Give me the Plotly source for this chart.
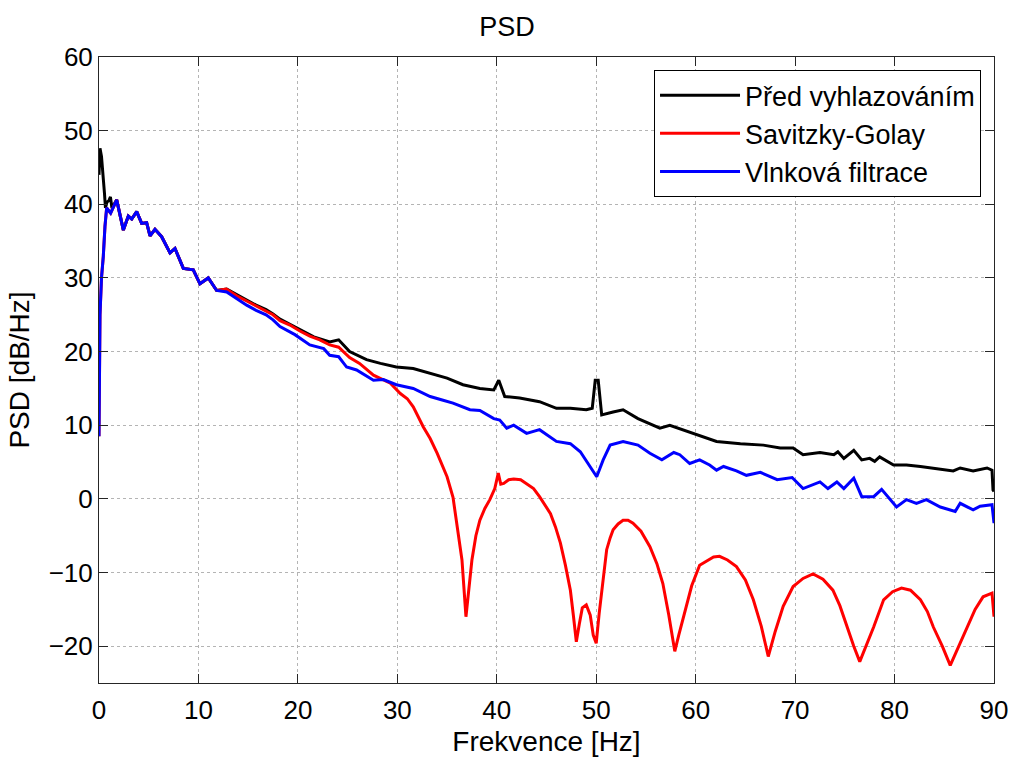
import plotly.graph_objects as go

# ---- data ----
blue_x = [0.0, 0.1, 0.25, 0.43, 0.6, 0.77, 1.17, 1.78, 2.45, 2.95, 3.29, 3.79, 4.29, 4.79, 5.13, 5.63,
          6.3, 7.14, 7.64, 8.48, 9.48, 10.15, 10.99, 11.83, 12.84, 13.85, 14.85, 15.8, 16.8, 17.5, 18.2,
          19.7, 21.2, 22.6, 23.2, 24.1, 24.9, 25.9, 27.6, 28.6, 29.9, 31.6, 33.3, 34.6, 35.6, 37.3, 38.3,
          39.7, 40.3, 41.0, 41.7, 43.0, 44.3, 46.0, 47.4, 48.4, 49.2, 50.05, 50.7, 51.4, 52.7, 54.2, 55.4,
          56.6, 57.8, 58.4, 59.4, 60.4, 61.4, 62.1, 62.8, 64.1, 65.1, 66.5, 68.2, 69.7, 70.8, 72.5, 73.3,
          74.2, 74.9, 75.9, 76.7, 77.9, 78.7, 80.2, 81.2, 82.2, 83.2, 84.6, 86.1, 86.6, 87.9, 88.6, 89.8, 90.0]
blue_y = [8.5, 25.0, 30.0, 32.9, 37.0, 39.5, 38.8, 40.6, 36.5, 38.4, 38.0, 39.0, 37.4, 37.5, 35.7, 36.6,
          35.6, 33.4, 34.0, 31.3, 31.1, 29.2, 30.0, 28.3, 28.1, 27.2, 26.3, 25.6, 25.0, 24.3, 23.4,
          22.3, 20.9, 20.4, 19.5, 19.3, 17.9, 17.5, 16.1, 16.2, 15.5, 15.0, 13.9, 13.4, 13.0, 12.1, 12.0,
          10.9, 10.7, 9.6, 10.0, 8.9, 9.4, 7.8, 7.5, 6.4, 4.8, 3.0, 5.3, 7.3, 7.8, 7.3, 6.2,
          5.3, 6.3, 6.0, 4.8, 5.3, 4.6, 3.9, 4.4, 3.8, 3.2, 3.6, 2.6, 2.9, 1.4, 2.3, 1.4,
          2.3, 1.4, 2.8, 0.3, 0.3, 1.3, -1.1, -0.1, -0.6, -0.1, -1.1, -1.7, -0.6, -1.5, -1.0, -0.8, -3.3]

red_x = [0.0, 0.1, 0.25, 0.43, 0.6, 0.77, 1.17, 1.78, 2.45, 2.95, 3.29, 3.79, 4.29, 4.79, 5.13, 5.63,
         6.3, 7.14, 7.64, 8.48, 9.48, 10.15, 10.99, 11.83, 12.8, 13.8, 14.8, 15.8, 16.8, 17.5, 18.2,
         19.2, 20.2, 21.2, 22.2, 23.2, 24.1, 25.2, 26.2, 27.6, 29.3, 30.3, 31.0, 31.6, 32.6, 33.3, 34.0,
         35.0, 35.6, 36.0, 36.5, 36.9, 37.2, 37.5, 37.9, 38.3, 38.8, 39.3, 39.8, 40.15, 40.4, 40.7, 41.2,
         41.7, 42.4, 43.0, 43.7, 44.3, 44.9, 45.4, 45.9, 46.4, 46.9, 47.4, 47.7, 48.0, 48.3, 48.6, 49.0,
         49.4, 49.7, 50.0, 50.3, 50.55, 50.8, 51.05, 51.4, 51.7, 52.2, 52.7, 53.2, 53.7, 54.5, 55.4, 56.1,
         56.7, 57.3, 57.9, 58.3, 58.8, 59.6, 60.4, 61.1, 61.8, 62.4, 63.2, 64.1, 65.0, 65.8, 66.6, 67.3,
         68.0, 68.8, 69.8, 70.8, 71.8, 72.8, 73.8, 74.5, 75.2, 75.9, 76.5, 77.2, 77.9, 78.9, 79.8, 80.7,
         81.6, 82.6, 83.3, 83.9, 84.8, 85.6, 86.4, 87.3, 88.1, 88.9, 89.8, 90.0]
red_y = [8.5, 25.0, 30.0, 32.9, 37.0, 39.5, 38.8, 40.6, 36.5, 38.4, 38.0, 39.0, 37.4, 37.5, 35.7, 36.6,
         35.6, 33.4, 34.0, 31.3, 31.1, 29.2, 30.0, 28.3, 28.5, 27.6, 26.9, 26.2, 25.6, 25.0, 24.2,
         23.6, 22.8, 22.1, 21.6, 20.9, 20.6, 19.2, 18.4, 16.8, 15.7, 14.3, 13.6, 12.5, 9.8, 8.2, 6.2,
         3.0, 0.2, -3.3, -8.3, -16.0, -12.0, -8.3, -5.0, -2.9, -1.3, -0.1, 1.4, 3.5, 2.0, 2.1, 2.6,
         2.7, 2.6, 2.1, 1.4, 0.3, -0.9, -2.0, -3.8, -6.0, -9.0, -12.4, -15.8, -19.4, -17.0, -14.8, -14.4,
         -15.8, -18.5, -19.6, -15.5, -12.4, -9.5, -6.9, -5.3, -4.2, -3.4, -2.9, -2.9, -3.3, -4.4, -6.5, -8.8,
         -11.5, -15.8, -20.7, -18.5, -16.0, -11.8, -9.0, -8.5, -7.9, -7.8, -8.3, -9.2, -11.0, -13.7, -17.3, -21.4,
         -18.0, -14.6, -11.9, -10.8, -10.2, -10.9, -12.4, -14.5, -17.4, -20.0, -22.1, -19.8, -17.4, -13.7, -12.6, -12.1,
         -12.4, -13.7, -15.3, -17.4, -20.0, -22.6, -20.2, -17.4, -15.0, -13.3, -12.8, -16.0]

black_x = [0.0, 0.1, 0.25, 0.4, 0.55, 0.65, 0.8, 1.0, 1.15, 1.3, 1.5, 1.78, 2.45, 2.95, 3.29, 3.79, 4.29,
           4.79, 5.13, 5.63, 6.3, 7.14, 7.64, 8.48, 9.48, 10.15, 10.99, 11.83, 12.84, 13.85, 14.85, 15.8,
           16.8, 17.5, 18.2, 19.2, 20.2, 21.6, 23.2, 24.1, 25.2, 26.9, 28.3, 29.9, 31.6, 33.3, 35.0, 36.6,
           38.3, 39.7, 40.2, 40.8, 42.3, 44.3, 46.0, 47.4, 49.0, 49.6, 49.9, 50.2, 50.55, 51.7, 52.7, 54.2,
           56.4, 57.4, 59.8, 62.1, 64.5, 66.8, 68.5, 69.8, 70.8, 72.5, 73.9, 74.3, 74.9, 75.9, 76.7, 77.5,
           78.0, 78.5, 79.9, 81.2, 82.6, 83.9, 85.9, 86.6, 87.9, 89.3, 89.8, 89.9, 90.0]
black_y = [44.0, 47.6, 46.5, 44.5, 41.5, 39.5, 40.3, 40.5, 41.0, 39.5, 40.0, 40.6, 36.5, 38.4, 38.0, 39.0, 37.4,
           37.5, 35.7, 36.6, 35.6, 33.4, 34.0, 31.3, 31.1, 29.2, 30.0, 28.3, 28.5, 27.7, 27.0, 26.3,
           25.7, 25.1, 24.4, 23.7, 23.0, 22.0, 21.3, 21.6, 20.0, 18.9, 18.4, 17.9, 17.7, 17.0, 16.4, 15.5,
           15.0, 14.8, 16.1, 13.9, 13.7, 13.2, 12.3, 12.3, 12.1, 12.3, 16.1, 16.1, 11.4, 11.8, 12.1, 10.9,
           9.6, 10.0, 8.9, 7.8, 7.5, 7.3, 6.9, 6.9, 6.0, 6.3, 6.0, 6.4, 5.5, 6.6, 5.3, 5.5,
           5.1, 5.7, 4.6, 4.6, 4.4, 4.2, 3.8, 4.2, 3.8, 4.2, 3.9, 1.2, 1.0]

x_ticks = [0, 10, 20, 30, 40, 50, 60, 70, 80, 90]
y_ticks = [-20, -10, 0, 10, 20, 30, 40, 50, 60]

FONT = "Liberation Sans, Arial, Helvetica, sans-serif"

fig = go.Figure()
fig.add_trace(go.Scatter(x=black_x, y=black_y, mode="lines", name="Před vyhlazováním",
                         line=dict(color="#000000", width=3)))
fig.add_trace(go.Scatter(x=red_x, y=red_y, mode="lines", name="Savitzky-Golay",
                         line=dict(color="#ff0000", width=3)))
fig.add_trace(go.Scatter(x=blue_x, y=blue_y, mode="lines", name="Vlnková filtrace",
                         line=dict(color="#0000ff", width=3)))

axis_common = dict(
    showline=True, linecolor="#262626", linewidth=1, mirror="ticks",
    ticks="inside", ticklen=9, tickcolor="#262626", tickwidth=1,
    showgrid=True, gridcolor="#b4b4b4", griddash="dot", gridwidth=1,
    zeroline=False, automargin=False,
    tickfont=dict(family=FONT, size=26, color="black"),
)

fig.update_layout(
    width=1014, height=757,
    margin=dict(l=99, r=20, t=57, b=74),
    paper_bgcolor="white", plot_bgcolor="white",
    font=dict(family=FONT, color="black"),
    title=dict(text="PSD", x=0.5, xanchor="center", y=1 - 27 / 757, yanchor="middle",
               font=dict(family=FONT, size=27, color="black")),
    xaxis=dict(range=[0, 90], tickvals=x_ticks, ticklabelstandoff=4,
               title=dict(text="Frekvence [Hz]", font=dict(family=FONT, size=28), standoff=12),
               **axis_common),
    yaxis=dict(range=[-25, 60], tickvals=y_ticks,
               title=dict(text="PSD [dB/Hz]", font=dict(family=FONT, size=28), standoff=10),
               **axis_common),
    legend=dict(x=0.9855, xanchor="right", y=0.979, yanchor="top",
                bgcolor="white", bordercolor="black", borderwidth=1,
                font=dict(family=FONT, size=27, color="black"),
                itemwidth=80, tracegroupgap=0),
    showlegend=True,
)

fig.write_html("out.html")
